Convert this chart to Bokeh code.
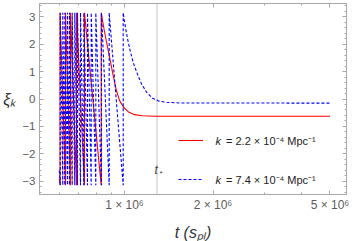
import numpy as np
from bokeh.plotting import figure
from bokeh.models import (Range1d, FixedTicker, SingleIntervalTicker, LogAxis, LinearAxis,
                          Span, Label, Legend, LegendItem, CustomJSTickFormatter)
from bokeh.embed import file_html
from bokeh.resources import INLINE

# ---------------- data ----------------
# k = 2.2e-4 Mpc^-1  (red, solid)
red_t = [6.000e5, 6.035e5, 6.035e5, 6.301e5, 6.301e5, 6.552e5, 6.552e5,
         6.868e5, 6.868e5, 7.310e5, 7.310e5, 8.331e5, 8.331e5,
         8.551e5, 8.755e5, 8.962e5, 9.174e5, 9.393e5, 9.616e5, 9.922e5, 1.0318e6, 1.0815e6,
         1.1514e6, 1.2749e6, 5.0e6]
red_xi = [-2.90, -3.14, 3.14, -3.14, 3.14, -3.14, 3.14,
          -3.14, 3.14, -3.14, 3.14, -3.14, 3.14,
          2.45, 1.90, 1.35, 0.80, 0.30, -0.05, -0.30, -0.47, -0.57,
          -0.61, -0.63, -0.63]

# k = 7.4e-4 Mpc^-1  (blue, dashed)
blue_t = [6.000e5,
          6.045e5, 6.045e5, 6.168e5, 6.168e5, 6.266e5, 6.266e5, 6.399e5, 6.399e5,
          6.500e5, 6.500e5, 6.640e5, 6.640e5, 6.776e5, 6.776e5, 6.921e5, 6.921e5,
          7.085e5, 7.085e5, 7.271e5, 7.271e5, 7.484e5, 7.484e5, 7.705e5, 7.705e5,
          7.988e5, 7.988e5, 8.352e5, 8.352e5, 8.870e5, 8.870e5, 9.899e5, 9.899e5,
          1.0079e6, 1.0238e6, 1.0481e6, 1.0730e6, 1.1071e6, 1.1424e6, 1.1880e6,
          1.2452e6, 1.3051e6, 1.3898e6, 1.5506e6, 5.0e6]
blue_xi = [-2.60,
           -3.14, 3.14, -3.14, 3.14, -3.14, 3.14, -3.14, 3.14,
           -3.14, 3.14, -3.14, 3.14, -3.14, 3.14, -3.14, 3.14,
           -3.14, 3.14, -3.14, 3.14, -3.14, 3.14, -3.14, 3.14,
           -3.14, 3.14, -3.14, 3.14, -3.14, 3.14, -3.14, 3.14,
           2.60, 2.20, 1.70, 1.30, 0.90, 0.55, 0.25,
           0.03, -0.07, -0.12, -0.145, -0.15]

t_star = 1.29e6
x_major = [1e6, 2e6, 5e6]
x_minor = [6e5, 7e5, 8e5, 9e5, 3e6, 4e6]
x_labels = ["1 × 10⁶", "2 × 10⁶", "5 × 10⁶"]
y_labels = {3: "3", 2: "2", 1: "1", 0: "0", -1: "−1", -2: "−2", -3: "−3"}
legend_labels = ["= 2.2 × 10⁻⁴ Mpc⁻¹", "= 7.4 × 10⁻⁴ Mpc⁻¹"]
x_title = "t (sₚₗ)"
y_title = "ξₖ"

# ---------------- layout (canvas px) ----------------
FL, FR, FT, FB = 39, 346, 3, 194          # frame edges
CANVAS_W, CANVAS_H = 353, 241
Y0, Y1 = -3.48, 3.48


def xpos(px):
    return 1e6 * 10 ** ((px - 124.0) / 294.0)


def ypos(py):
    return Y1 - (py - FT) * (Y1 - Y0) / (FB - FT)


X0, X1 = xpos(FL), xpos(FR)

FRAME = "#a8a8a8"
TICKLBL = "#5c5c5c"
FONT = "Liberation Sans"

p = figure(frame_width=FR - FL, frame_height=FB - FT, x_axis_type="log",
           x_range=Range1d(X0, X1), y_range=Range1d(Y0, Y1),
           output_backend="svg", toolbar_location=None,
           min_border_left=FL, min_border_right=CANVAS_W - FR,
           min_border_top=FT, min_border_bottom=CANVAS_H - FB)
p.xgrid.visible = False
p.ygrid.visible = False
p.outline_line_color = FRAME
p.background_fill_color = "white"
p.border_fill_color = "white"

xticker = FixedTicker(ticks=x_major, minor_ticks=x_minor)
yticker = SingleIntervalTicker(interval=1, num_minor_ticks=5)


def style(ax):
    ax.axis_line_color = FRAME
    ax.major_tick_line_color = FRAME
    ax.minor_tick_line_color = FRAME
    ax.major_tick_in = 4
    ax.major_tick_out = 0
    ax.minor_tick_in = 2
    ax.minor_tick_out = 0
    ax.major_label_text_color = TICKLBL
    ax.major_label_text_font = FONT


xa = p.xaxis[0]
xa.ticker = xticker
xa.major_label_overrides = {v: s for v, s in zip(x_major, x_labels)}
style(xa)
xa.major_label_text_font_size = "12px"
xa.major_label_standoff = 3
xa.axis_label = x_title
xa.axis_label_text_font = FONT
xa.axis_label_text_font_size = "16px"
xa.axis_label_text_font_style = "italic"
xa.axis_label_text_color = "#333333"
xa.axis_label_standoff = 9

ya = p.yaxis[0]
ya.ticker = yticker
ya.major_label_overrides = y_labels
style(ya)
ya.major_label_text_font_size = "11.5px"
ya.major_label_standoff = 4
ya.axis_label = y_title
ya.axis_label_orientation = "horizontal"
ya.axis_label_text_font = FONT
ya.axis_label_text_font_size = "16px"
ya.axis_label_text_font_style = "italic"
ya.axis_label_text_color = "#333333"
ya.axis_label_standoff = 3

blank = CustomJSTickFormatter(code="return ''")
top = LogAxis(ticker=xticker, formatter=blank, major_label_standoff=0,
              major_label_text_font_size="0px")
style(top)
right = LinearAxis(ticker=yticker, formatter=blank, major_label_standoff=0,
                   major_label_text_font_size="0px")
style(right)
p.add_layout(top, "above")
p.add_layout(right, "right")

p.add_layout(Span(location=t_star, dimension="height", line_color="#c4c4c4",
                  line_width=1, level="underlay"))

r_red = p.line(red_t, red_xi, line_color="#ff0000", line_width=1.1)
r_blue = p.line(blue_t, blue_xi, line_color="#0000ff", line_width=1.1, line_dash="3 2")

# legend rows centred at canvas y 140 and 179
ROW1, ROW2, RH = 140, 179, 18
legend = Legend(items=[LegendItem(label=legend_labels[0], renderers=[r_red]),
                       LegendItem(label=legend_labels[1], renderers=[r_blue])],
                location=(178 - FL, FB - (ROW2 + RH / 2)), orientation="vertical",
                padding=0, margin=0, spacing=(ROW2 - ROW1) - RH,
                glyph_width=25, glyph_height=RH, label_height=RH, label_standoff=23,
                label_text_font_size="11px", label_text_color="#222222",
                label_text_font=FONT,
                border_line_color=None, background_fill_alpha=0)
p.add_layout(legend)

# italic k in the legend rows
for row_y in (ROW1, ROW2):
    p.add_layout(Label(x=xpos(215), y=ypos(row_y), text="k", text_font=FONT,
                       text_font_style="italic", text_font_size="11px",
                       text_baseline="middle", text_color="#222222"))

# t_* marker label
p.add_layout(Label(x=xpos(154), y=ypos(169.5), text="t", text_font=FONT,
                   text_font_style="italic", text_font_size="12px",
                   text_baseline="alphabetic", text_color="#444444"))
p.add_layout(Label(x=xpos(159), y=ypos(172.5), text="*", text_font=FONT,
                   text_font_size="8px", text_baseline="alphabetic", text_color="#444444"))

open("out.html", "w").write(file_html(p, INLINE))
